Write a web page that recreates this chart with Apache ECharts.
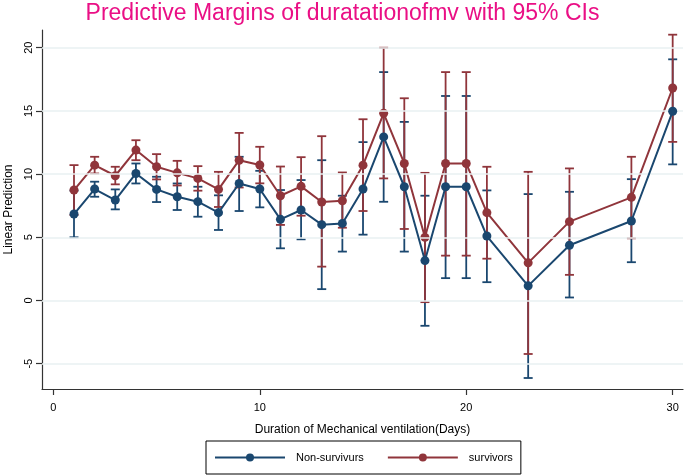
<!DOCTYPE html>
<html>
<head>
<meta charset="utf-8">
<script src="https://cdn.jsdelivr.net/npm/echarts@6/dist/echarts.min.js"></script>
<style>
html,body{margin:0;padding:0;background:#fff;}
#chart{width:685px;height:476px;}
</style>
</head>
<body>
<div id="chart"></div>
<script>
const days = [1,2,3,4,5,6,7,8,9,10,11,12,13,14,15,16,17,18,19,20,21,23,25,28,30];

const nonSurv   = [6.84, 8.82, 7.95, 10.05, 8.79, 8.21, 7.82, 6.95, 9.26, 8.82, 6.42, 7.16, 6.0, 6.1, 8.82, 12.94, 9.0, 3.16, 9.0, 9.0, 5.1, 1.16, 4.37, 6.29, 14.97];
const nonSurvLo = [5.0, 8.21, 7.21, 9.26, 7.79, 7.16, 6.63, 5.58, 7.08, 7.37, 4.13, 4.84, 0.9, 3.87, 5.21, 7.81, 3.87, -2.0, 1.77, 1.77, 1.45, -6.13, 0.24, 3.03, 10.77];
const nonSurvHi = [8.7, 9.4, 8.79, 10.84, 9.79, 9.26, 9.0, 8.32, 11.37, 10.26, 8.74, 9.53, 11.1, 8.29, 12.53, 18.07, 14.13, 8.29, 16.18, 16.18, 8.71, 8.42, 8.6, 9.6, 19.08];

const surv   = [8.74, 10.71, 9.87, 11.9, 10.58, 10.1, 9.66, 8.79, 11.1, 10.72, 8.29, 9.03, 7.79, 7.89, 10.71, 14.81, 10.84, 5.0, 10.84, 10.84, 6.95, 2.98, 6.24, 8.16, 16.81];
const survLo = [6.77, 10.05, 9.19, 11.1, 9.58, 9.1, 8.69, 7.4, 8.94, 9.27, 5.98, 6.71, 2.68, 5.76, 7.08, 9.66, 5.66, -0.13, 3.55, 3.55, 3.31, -4.23, 2.03, 4.92, 12.55];
const survHi = [10.71, 11.37, 10.58, 12.68, 11.58, 11.05, 10.63, 10.18, 13.26, 12.16, 10.6, 11.34, 13.0, 10.13, 14.34, 20.0, 16.0, 10.1, 18.07, 18.07, 10.58, 10.18, 10.45, 11.37, 21.03];

const xTicks = [0, 10, 20, 30];
const yTicks = [-5, 0, 5, 10, 15, 20];

const BLUE = '#1a476f';
const RED = '#90353b';
const FONT = '"Liberation Sans", Arial, sans-serif';

function ciData(lo, hi) {
  return days.map((d, i) => [d, lo[i], hi[i]]);
}
function lineData(v) {
  return days.map((d, i) => [d, v[i]]);
}
function makeCI(name, lo, hi, color, z) {
  return {
    name: name,
    type: 'custom',
    silent: true,
    z: z,
    data: ciData(lo, hi),
    encode: { x: 0, y: [1, 2] },
    renderItem: function (params, api) {
      const x = api.value(0);
      const pLo = api.coord([x, api.value(1)]);
      const pHi = api.coord([x, api.value(2)]);
      const hw = 4.5;
      const style = { stroke: color, lineWidth: 1.8, fill: null };
      return {
        type: 'group',
        children: [
          { type: 'line', shape: { x1: pLo[0], y1: pLo[1], x2: pHi[0], y2: pHi[1] }, style: style },
          { type: 'line', shape: { x1: pLo[0] - hw, y1: pLo[1], x2: pLo[0] + hw, y2: pLo[1] }, style: style },
          { type: 'line', shape: { x1: pHi[0] - hw, y1: pHi[1], x2: pHi[0] + hw, y2: pHi[1] }, style: style }
        ]
      };
    }
  };
}

const chart = echarts.init(document.getElementById('chart'), null, { renderer: 'canvas' });
chart.setOption({
  animation: false,
  backgroundColor: '#ffffff',
  textStyle: { fontFamily: FONT },
  title: {
    text: 'Predictive Margins of duratationofmv with 95% CIs',
    left: 'center',
    top: -3,
    textStyle: { color: '#ea0f85', fontSize: 23, fontWeight: 'normal', fontFamily: FONT }
  },
  grid: { left: 42, right: 2, top: 30, bottom: 87, containLabel: false, outerBoundsMode: 'none' },
  xAxis: {
    type: 'value',
    min: -0.55,
    max: 30.5,
    name: 'Duration of Mechanical ventilation(Days)',
    nameLocation: 'middle',
    nameGap: 35,
    nameTextStyle: { color: '#000', fontSize: 12, fontFamily: FONT },
    axisLine: { show: true, onZero: false, lineStyle: { color: '#333', width: 1.2 } },
    axisTick: { show: true, length: 6, customValues: xTicks, lineStyle: { color: '#333', width: 1.2 } },
    axisLabel: { customValues: xTicks, color: '#000', fontSize: 11, margin: 13, fontFamily: FONT },
    splitLine: { show: false }
  },
  yAxis: {
    type: 'value',
    min: -7,
    max: 21.4,
    name: 'Linear Prediction',
    nameLocation: 'middle',
    nameGap: 18,
    nameRotate: 90,
    nameTextStyle: { color: '#000', fontSize: 12, fontFamily: FONT },
    axisLine: { show: true, onZero: false, lineStyle: { color: '#333', width: 1.2 } },
    axisTick: { show: true, length: 6, customValues: yTicks, lineStyle: { color: '#333', width: 1.2 } },
    axisLabel: { customValues: yTicks, rotate: 90, color: '#000', fontSize: 11, margin: 8, fontFamily: FONT },
    splitLine: { show: false }
  },
  legend: {
    data: ['Non-survivurs', 'survivors'],
    left: 206,
    top: 441,
    padding: [11, 8, 11, 8],
    itemWidth: 70,
    itemHeight: 10,
    itemGap: 23,
    borderColor: '#000',
    borderWidth: 1,
    textStyle: { color: '#000', fontSize: 11, fontFamily: FONT, padding: [0, 0, 0, 6] }
  },
  series: [
    {
      name: 'grid',
      type: 'line',
      data: [],
      silent: true,
      z: 1,
      markLine: {
        silent: true,
        symbol: 'none',
        label: { show: false },
        lineStyle: { color: '#e8f0f2', width: 1.5, type: 'solid' },
        data: yTicks.map(v => ({ yAxis: v }))
      }
    },
    makeCI('ciNon', nonSurvLo, nonSurvHi, BLUE, 2),
    makeCI('ciSurv', survLo, survHi, RED, 3),
    {
      name: 'survivors',
      type: 'line',
      data: lineData(surv),
      symbol: 'circle',
      symbolSize: 9,
      itemStyle: { color: RED },
      lineStyle: { color: RED, width: 2 },
      z: 4
    },
    {
      name: 'Non-survivurs',
      type: 'line',
      data: lineData(nonSurv),
      symbol: 'circle',
      symbolSize: 9,
      itemStyle: { color: BLUE },
      lineStyle: { color: BLUE, width: 2 },
      z: 5
    }
  ]
});
</script>
</body>
</html>
